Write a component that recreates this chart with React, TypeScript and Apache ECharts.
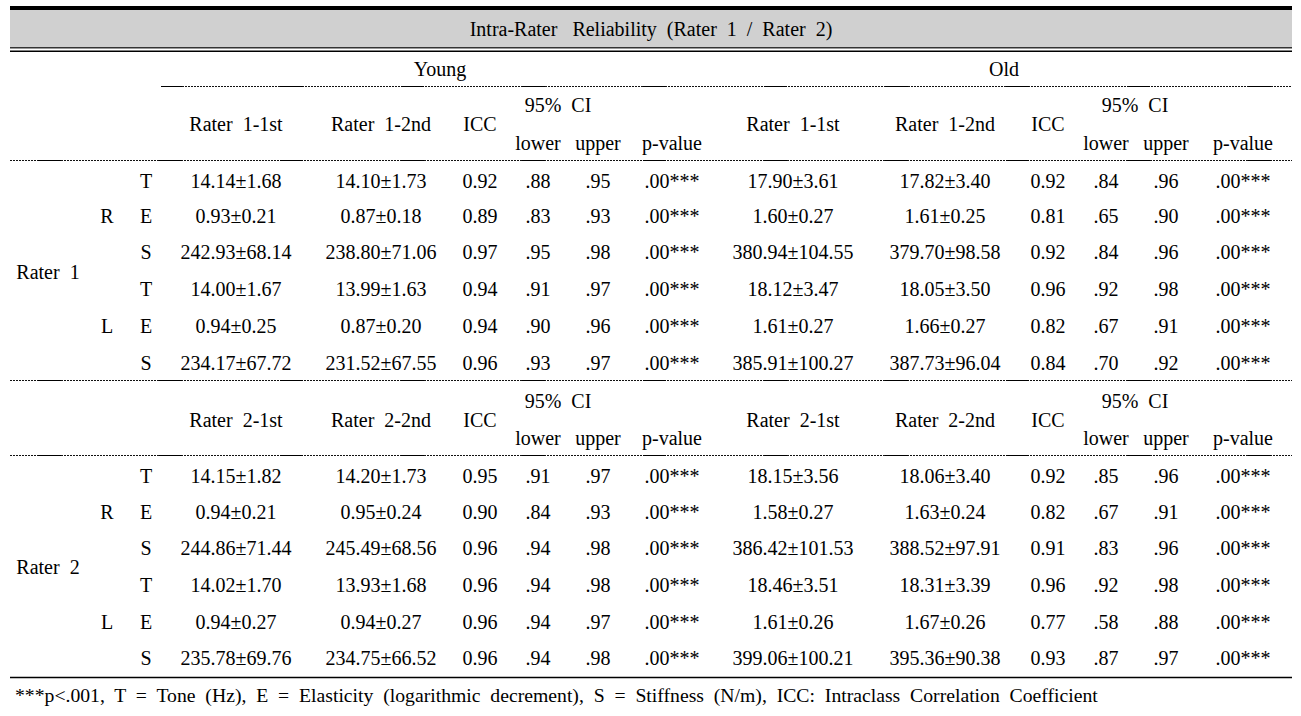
import React, { useEffect, useRef } from 'react';
import * as echarts from 'echarts';

// ---------- data ----------
const titleText = 'Intra-Rater   Reliability  (Rater  1  /  Rater  2)';
const ageGroups = ['Young', 'Old'];
const raterNames = ['Rater  1', 'Rater  2'];
const sideLabels = ['R', 'L'];
const measureLabels = ['T', 'E', 'S'];
const ciHeader = '95%  CI';
const footnote =
  '***p<.001,  T  =  Tone  (Hz),  E  =  Elasticity  (logarithmic  decrement),  S  =  Stiffness  (N/m),  ICC:  Intraclass  Correlation  Coefficient';

// Rater 1 - Young
const r1YoungFirstMean = [14.14, 0.93, 242.93, 14.0, 0.94, 234.17];
const r1YoungFirstSd = [1.68, 0.21, 68.14, 1.67, 0.25, 67.72];
const r1YoungSecondMean = [14.1, 0.87, 238.8, 13.99, 0.87, 231.52];
const r1YoungSecondSd = [1.73, 0.18, 71.06, 1.63, 0.2, 67.55];
const r1YoungIcc = [0.92, 0.89, 0.97, 0.94, 0.94, 0.96];
const r1YoungLower = [0.88, 0.83, 0.95, 0.91, 0.9, 0.93];
const r1YoungUpper = [0.95, 0.93, 0.98, 0.97, 0.96, 0.97];
const r1YoungP = [0, 0, 0, 0, 0, 0];
// Rater 1 - Old
const r1OldFirstMean = [17.9, 1.6, 380.94, 18.12, 1.61, 385.91];
const r1OldFirstSd = [3.61, 0.27, 104.55, 3.47, 0.27, 100.27];
const r1OldSecondMean = [17.82, 1.61, 379.7, 18.05, 1.66, 387.73];
const r1OldSecondSd = [3.4, 0.25, 98.58, 3.5, 0.27, 96.04];
const r1OldIcc = [0.92, 0.81, 0.92, 0.96, 0.82, 0.84];
const r1OldLower = [0.84, 0.65, 0.84, 0.92, 0.67, 0.7];
const r1OldUpper = [0.96, 0.9, 0.96, 0.98, 0.91, 0.92];
const r1OldP = [0, 0, 0, 0, 0, 0];
// Rater 2 - Young
const r2YoungFirstMean = [14.15, 0.94, 244.86, 14.02, 0.94, 235.78];
const r2YoungFirstSd = [1.82, 0.21, 71.44, 1.7, 0.27, 69.76];
const r2YoungSecondMean = [14.2, 0.95, 245.49, 13.93, 0.94, 234.75];
const r2YoungSecondSd = [1.73, 0.24, 68.56, 1.68, 0.27, 66.52];
const r2YoungIcc = [0.95, 0.9, 0.96, 0.96, 0.96, 0.96];
const r2YoungLower = [0.91, 0.84, 0.94, 0.94, 0.94, 0.94];
const r2YoungUpper = [0.97, 0.93, 0.98, 0.98, 0.97, 0.98];
const r2YoungP = [0, 0, 0, 0, 0, 0];
// Rater 2 - Old
const r2OldFirstMean = [18.15, 1.58, 386.42, 18.46, 1.61, 399.06];
const r2OldFirstSd = [3.56, 0.27, 101.53, 3.51, 0.26, 100.21];
const r2OldSecondMean = [18.06, 1.63, 388.52, 18.31, 1.67, 395.36];
const r2OldSecondSd = [3.4, 0.24, 97.91, 3.39, 0.26, 90.38];
const r2OldIcc = [0.92, 0.82, 0.91, 0.96, 0.77, 0.93];
const r2OldLower = [0.85, 0.67, 0.83, 0.92, 0.58, 0.87];
const r2OldUpper = [0.96, 0.91, 0.96, 0.98, 0.88, 0.97];
const r2OldP = [0, 0, 0, 0, 0, 0];

// ---------- layout ----------
const FONT = '"Liberation Serif", "Times New Roman", serif';
const FS = 20;
const X0 = 10;
const X1 = 1292;
const colCenters = [
  { first: 236, second: 381, icc: 480, ci: 558, lower: 538, upper: 598, p: 672 },
  { first: 793, second: 945, icc: 1048, ci: 1135, lower: 1106, upper: 1166, p: 1243 },
];
const blocks = [
  {
    headerY: [105, 124, 143],
    rowY: [181, 216, 252, 289, 326, 363],
    data: [
      [r1YoungFirstMean, r1YoungFirstSd, r1YoungSecondMean, r1YoungSecondSd, r1YoungIcc, r1YoungLower, r1YoungUpper, r1YoungP],
      [r1OldFirstMean, r1OldFirstSd, r1OldSecondMean, r1OldSecondSd, r1OldIcc, r1OldLower, r1OldUpper, r1OldP],
    ],
  },
  {
    headerY: [401, 420, 438],
    rowY: [476, 512, 548, 585, 622, 658],
    data: [
      [r2YoungFirstMean, r2YoungFirstSd, r2YoungSecondMean, r2YoungSecondSd, r2YoungIcc, r2YoungLower, r2YoungUpper, r2YoungP],
      [r2OldFirstMean, r2OldFirstSd, r2OldSecondMean, r2OldSecondSd, r2OldIcc, r2OldLower, r2OldUpper, r2OldP],
    ],
  },
];

const f2 = (v: number) => v.toFixed(2);
const ci = (v: number) => v.toFixed(2).replace(/^0/, '');
const pv = (v: number) => (v < 0.001 ? '.00***' : v.toFixed(2).replace(/^0/, ''));

function txt(text: string, x: number, y: number, align: string = 'center', size: number = FS) {
  return {
    type: 'text',
    x,
    y,
    silent: true,
    style: {
      text,
      fill: '#000',
      font: `${size}px ${FONT}`,
      align,
      verticalAlign: 'middle',
      textAlign: align,
      textVerticalAlign: 'middle',
    },
  };
}

function dottedLine(x1: number, x2: number, y: number) {
  const off = (((x1 - 38) % 121) + 121) % 121;
  return [
    {
      type: 'line',
      silent: true,
      shape: { x1, y1: y, x2, y2: y },
      style: { stroke: '#111', lineWidth: 1, lineDash: [2, 1] },
    },
    {
      type: 'line',
      silent: true,
      shape: { x1, y1: y, x2, y2: y },
      style: { stroke: '#000', lineWidth: 1.2, lineDash: [23, 98], lineDashOffset: off },
    },
  ];
}

function buildElements() {
  const els: any[] = [];
  // title band
  els.push({ type: 'rect', silent: true, shape: { x: X0, y: 10, width: X1 - X0, height: 37 }, style: { fill: '#d0d0d0' } });
  els.push({ type: 'rect', silent: true, shape: { x: X0, y: 6, width: X1 - X0, height: 4 }, style: { fill: '#000' } });
  els.push({ type: 'rect', silent: true, shape: { x: X0, y: 47, width: X1 - X0, height: 1.5 }, style: { fill: '#333' } });
  els.push({ type: 'rect', silent: true, shape: { x: X0, y: 50.5, width: X1 - X0, height: 1.5 }, style: { fill: '#000' } });
  els.push(txt(titleText, 651, 29));

  // age group headers
  els.push(txt(ageGroups[0], 440, 69));
  els.push(txt(ageGroups[1], 1004, 69));
  els.push(...dottedLine(161, X1, 86.5));

  // lines
  els.push(...dottedLine(X0, X1, 160.5));
  els.push(...dottedLine(X0, X1, 380.5));
  els.push(...dottedLine(X0, X1, 455.5));
  els.push({ type: 'line', silent: true, shape: { x1: X0, y1: 677.5, x2: X1, y2: 677.5 }, style: { stroke: '#000', lineWidth: 1.3 } });

  blocks.forEach((blk, bi) => {
    const rn = bi + 1;
    colCenters.forEach((cc, gi) => {
      els.push(txt(`Rater  ${rn}-1st`, cc.first, blk.headerY[1]));
      els.push(txt(`Rater  ${rn}-2nd`, cc.second, blk.headerY[1]));
      els.push(txt('ICC', cc.icc, blk.headerY[1]));
      els.push(txt(ciHeader, cc.ci, blk.headerY[0]));
      els.push(txt('lower', cc.lower, blk.headerY[2]));
      els.push(txt('upper', cc.upper, blk.headerY[2]));
      els.push(txt('p-value', cc.p, blk.headerY[2]));
      const [m1, s1, m2, s2, icc, lo, up, p] = blk.data[gi];
      blk.rowY.forEach((y, ri) => {
        els.push(txt(`${f2(m1[ri])}±${f2(s1[ri])}`, cc.first, y));
        els.push(txt(`${f2(m2[ri])}±${f2(s2[ri])}`, cc.second, y));
        els.push(txt(f2(icc[ri]), cc.icc, y));
        els.push(txt(ci(lo[ri]), cc.lower, y));
        els.push(txt(ci(up[ri]), cc.upper, y));
        els.push(txt(pv(p[ri]), cc.p, y));
      });
    });
    // row labels
    blk.rowY.forEach((y, ri) => {
      els.push(txt(measureLabels[ri % 3], 146, y));
    });
    els.push(txt(sideLabels[0], 107, blk.rowY[1]));
    els.push(txt(sideLabels[1], 107, blk.rowY[4]));
    els.push(txt(raterNames[bi], 48, (blk.rowY[0] + blk.rowY[5]) / 2));
  });

  els.push(txt(footnote, 15, 695, 'left', 19.7));
  return els;
}

export default function App() {
  const ref = useRef<HTMLDivElement>(null);
  useEffect(() => {
    if (!ref.current) return;
    const chart = echarts.init(ref.current, undefined, { renderer: 'svg' });
    chart.setOption({
      animation: false,
      backgroundColor: '#fff',
      graphic: { elements: buildElements() },
    });
    return () => chart.dispose();
  }, []);
  return (
    <div
      ref={ref}
      style={{ position: 'fixed', left: 0, top: 0, width: 1301, height: 716, background: '#fff' }}
    />
  );
}
